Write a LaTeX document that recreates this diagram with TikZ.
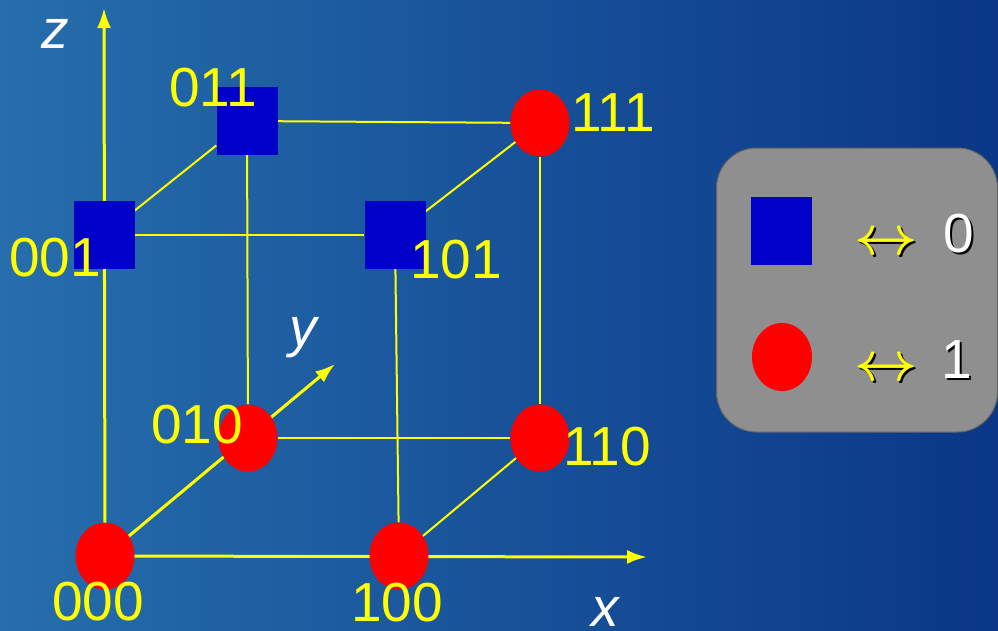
\RequirePackage{fix-cm}
\documentclass[tikz,border=0pt]{standalone}
\usepackage{fontspec}
\setmainfont{Liberation Sans}
\usetikzlibrary{shapes.geometric,arrows.meta}
\definecolor{cubeyellow}{RGB}{255,255,0}
\definecolor{zeroblue}{RGB}{0,0,200}
\definecolor{onered}{RGB}{255,0,0}
\definecolor{bgleft}{RGB}{38,110,172}
\definecolor{bgmid}{RGB}{30,100,165}
\definecolor{bgright}{RGB}{10,55,135}
\definecolor{keygray}{RGB}{143,143,143}
\definecolor{keyrim}{RGB}{100,100,100}
\pgfdeclarelayer{bg}
\pgfdeclarelayer{edges}
\pgfsetlayers{bg,edges,main}
\tikzset{
  zero/.style={rectangle, fill=zeroblue, minimum width=61pt, minimum height=68pt, inner sep=0pt},
  one/.style={ellipse, fill=onered, minimum width=59pt, minimum height=67pt, inner sep=0pt},
  bits/.style={text=cubeyellow, font=\fontsize{55}{60}\selectfont, inner sep=0pt},
  axlabel/.style={text=white, font=\fontsize{55}{60}\selectfont\itshape, inner sep=0pt},
  keytext/.style={font=\fontsize{55}{60}\selectfont, inner sep=0pt},
  keyarrow/.style={font=\fontsize{55}{60}\selectfont\boldmath, inner sep=0pt},
  cubeedge/.style={draw=cubeyellow, line width=2pt},
  cubeaxis/.style={draw=cubeyellow, line width=3pt, -{Latex[length=20pt,width=14pt]}},
  keybox/.style={draw=keyrim, fill=keygray, line width=1pt, rounded corners=40pt,
    minimum width=281pt, minimum height=284pt},
}
\begin{document}
\begin{tikzpicture}[x=1pt, y=-1pt]
\useasboundingbox (0,0) rectangle (998,630);

% Hintergrund
\begin{pgfonlayer}{bg}
\shade[left color=bgleft, middle color=bgmid, right color=bgright] (0,0) rectangle (998,630);
\end{pgfonlayer}

% Ecken des Wuerfels: Quadrat = 0, Kreis = 1
\node[one]  (v000) at (105,556) {};
\node[one]  (v100) at (399,556) {};
\node[one]  (v010) at (248,438) {};
\node[one]  (v110) at (540,438) {};
\node[zero] (v001) at (104,235) {};
\node[zero] (v101) at (395,235) {};
\node[zero] (v011) at (247,121) {};
\node[one]  (v111) at (540,123) {};

% Enden der Achsen
\coordinate (xend) at (647,557);
\coordinate (yend) at (335,364);
\coordinate (zend) at (104,8);

% Kanten und Achsen unter den Ecken
\begin{pgfonlayer}{edges}
\draw[cubeaxis] (v000.center) -- (xend);
\draw[cubeaxis] (v000.center) -- (yend);
\draw[cubeaxis] (v000.center) -- (zend);
\draw[cubeedge] (v001) -- (v101);
\draw[cubeedge] (v011) -- (v111);
\draw[cubeedge] (v010) -- (v110);
\draw[cubeedge] (v011) -- (v010);
\draw[cubeedge] (v101) -- (v100);
\draw[cubeedge] (v111) -- (v110);
\draw[cubeedge] (v001) -- (v011);
\draw[cubeedge] (v101) -- (v111);
\draw[cubeedge] (v100) -- (v110);
\end{pgfonlayer}

% Beschriftung der Ecken
\node[bits] (l000) at (98,602) {000};
\node[bits] (l100) at (397,603) {100};
\node[bits] (l010) at (197,425) {010};
\node[bits] (l110) at (607,447) {110};
\node[bits] (l001) at (55,258) {001};
\node[bits] (l101) at (456,260) {101};
\node[bits] (l011) at (213,88) {011};
\node[bits] (l111) at (613,113) {111};

% Achsennamen
\node[axlabel] (lx) at (605,612) {x};
\node[axlabel] (ly) at (303,338) {y};
\node[axlabel] (lz) at (55,34) {z};

% Legende rechts
\node[keybox] (legend) at (857,290) {};
\node[zero] (keysq) at (781,231) {};
\node[one, minimum width=60pt, minimum height=68pt] (keycirc) at (782,357) {};
\node[keyarrow, text=black]      (arr0s) at (888,246) {$\leftrightarrow$};
\node[keyarrow, text=cubeyellow] (arr0)  at (886,244) {$\leftrightarrow$};
\node[keyarrow, text=black]      (arr1s) at (888,372) {$\leftrightarrow$};
\node[keyarrow, text=cubeyellow] (arr1)  at (886,370) {$\leftrightarrow$};
\node[keytext, text=black]      (zeros) at (961,236) {0};
\node[keytext, text=white]      (zero0) at (959,234) {0};
\node[keytext, text=black]      (ones)  at (959,362) {1};
\node[keytext, text=white]      (one1)  at (957,360) {1};

\end{tikzpicture}
\end{document}
